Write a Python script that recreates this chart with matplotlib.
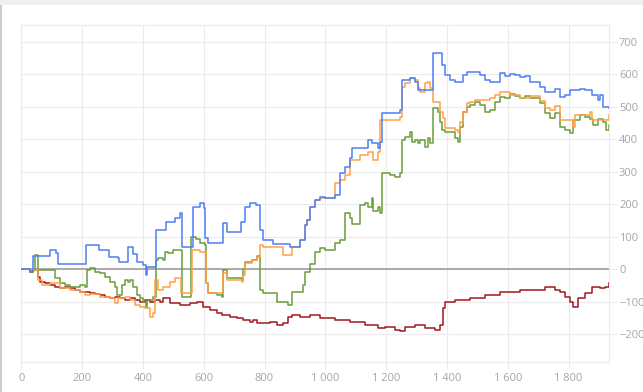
import numpy as np
import matplotlib
matplotlib.use("Agg")
from matplotlib import pyplot as plt
from matplotlib.patches import Rectangle

# (x = step index, y = value)
blue_x = [0, 29, 38, 88, 94, 114, 121, 209, 213, 252, 255, 285, 290, 318, 321, 351, 367, 380, 400, 410, 413,
          443, 476, 505, 522, 528, 561, 564, 588, 601, 604, 614, 660, 663, 676, 719, 722, 736, 752, 772, 785,
          795, 828, 884, 916, 933, 939, 949, 966, 982, 998, 1031, 1048, 1064, 1081, 1087, 1130, 1140, 1153,
          1173, 1180, 1186, 1239, 1245, 1252, 1278, 1294, 1304, 1344, 1354, 1377, 1383, 1393, 1410, 1426,
          1452, 1465, 1492, 1508, 1525, 1541, 1574, 1590, 1607, 1623, 1640, 1656, 1673, 1706, 1722, 1755,
          1771, 1788, 1804, 1837, 1853, 1876, 1896, 1903, 1912, 1932]
blue_y = [0, -6, 40, 40, 58, 49, 15, 15, 74, 74, 58, 58, 37, 34, 22, 68, 45, 22, 12, -18, 6,
          120, 145, 157, 172, 68, 68, 191, 203, 188, 95, 80, 80, 141, 114, 114, 145, 191, 203, 197, 120,
          89, 77, 68, 89, 135, 151, 191, 212, 221, 218, 228, 295, 314, 341, 372, 372, 397, 387,
          372, 391, 480, 480, 489, 581, 587, 575, 550, 550, 664, 664, 627, 597, 581, 575,
          597, 606, 606, 597, 581, 575, 603, 595, 600, 597, 590, 595, 575, 560, 545, 555,
          529, 535, 550, 555, 550, 535, 520, 535, 500, 495]

orange_x = [0, 38, 55, 68, 94, 127, 160, 193, 209, 226, 259, 292, 308, 318, 341, 357, 374, 390, 407, 423,
            433, 440, 449, 466, 489, 505, 525, 561, 588, 604, 607, 614, 660, 663, 676, 726, 729, 736, 759,
            775, 785, 795, 841, 860, 884, 890, 916, 933, 939, 949, 966, 982, 1031, 1048, 1064, 1081, 1114,
            1140, 1157, 1173, 1180, 1239, 1245, 1252, 1262, 1278, 1294, 1304, 1311, 1327, 1338, 1344, 1354,
            1377, 1386, 1393, 1426, 1436, 1442, 1452, 1465, 1475, 1492, 1541, 1558, 1574, 1607, 1640, 1673,
            1706, 1722, 1738, 1755, 1771, 1814, 1820, 1870, 1876, 1926, 1932]
orange_y = [0, -3, -34, -49, -43, -58, -65, -71, -80, -77, -86, -89, -105, -89, -86, -95, -111, -117, -120, -148,
            -135, -34, -65, -55, -40, -28, -74, 58, 52, 52, -43, -74, -74, -12, -34, -40, -18, 18, 28,
            37, 74, 68, 68, 43, 43, 68, 89, 135, 151, 191, 212, 218, 264, 274, 289, 335, 351,
            360, 335, 360, 458, 458, 467, 560, 572, 587, 581, 557, 544, 572, 575, 557, 514,
            483, 464, 434, 427, 421, 452, 483, 510, 514, 520, 526, 535, 544, 535, 526, 532,
            517, 495, 489, 501, 458, 437, 474, 483, 458, 458, 474]

green_x = [0, 29, 38, 45, 55, 94, 111, 127, 144, 160, 193, 209, 216, 226, 242, 259, 275, 292, 308, 315, 331,
           341, 351, 357, 367, 380, 390, 400, 410, 413, 433, 443, 449, 466, 472, 482, 499, 528, 558, 575,
           588, 604, 607, 614, 643, 660, 663, 676, 726, 729, 736, 759, 775, 785, 795, 841, 877, 890, 926,
           933, 949, 966, 982, 998, 1031, 1048, 1064, 1081, 1087, 1114, 1130, 1140, 1153, 1157, 1173, 1180,
           1186, 1212, 1229, 1245, 1252, 1262, 1278, 1285, 1294, 1304, 1311, 1327, 1338, 1344, 1354, 1370,
           1377, 1383, 1393, 1426, 1436, 1442, 1452, 1465, 1475, 1492, 1508, 1525, 1541, 1558, 1574, 1590,
           1607, 1623, 1640, 1656, 1673, 1706, 1722, 1738, 1755, 1771, 1788, 1804, 1814, 1837, 1853, 1870,
           1880, 1896, 1912, 1922, 1932]
green_y = [0, -9, -3, 43, -3, -3, -28, -43, -49, -55, -49, -55, -3, 3, -9, -12, -25, -40, -55, -80, -49,
           -34, -40, -34, -55, -80, -89, -101, -117, -95, -86, 28, 34, 28, 52, 49, 58, -86, 98, 92,
           80, 74, -43, -74, -80, -86, -3, -28, -34, 0, 22, 28, 40, -65, -74, -101, -111, -71, -49,
           -9, 15, 52, 65, 58, 80, 89, 172, 157, 138, 197, 203, 191, 218, 178, 191, 172,
           295, 289, 283, 295, 397, 406, 421, 391, 397, 387, 397, 375, 403, 387, 495, 483,
           452, 427, 421, 403, 391, 437, 483, 498, 504, 514, 504, 483, 489, 514, 529, 526,
           538, 532, 526, 532, 526, 510, 480, 464, 480, 437, 427, 418, 458, 474, 467, 461,
           443, 461, 452, 427, 443]

red_x = [0, 29, 38, 55, 61, 78, 94, 111, 127, 144, 160, 177, 193, 226, 242, 259, 275, 292, 308, 325, 341,
         357, 374, 390, 407, 423, 440, 456, 466, 489, 522, 555, 578, 597, 620, 643, 660, 686, 709, 729, 752,
         762, 775, 795, 818, 841, 860, 877, 890, 916, 949, 982, 1031, 1081, 1130, 1173, 1196, 1229, 1245,
         1262, 1294, 1327, 1360, 1377, 1386, 1393, 1426, 1475, 1525, 1574, 1640, 1706, 1722, 1755, 1771,
         1788, 1804, 1814, 1830, 1853, 1876, 1903, 1919, 1932]
red_y = [0, -9, -3, -25, -40, -43, -49, -55, -58, -55, -58, -65, -71, -74, -77, -80, -86, -89, -86, -89, -95,
         -89, -95, -101, -95, -101, -95, -101, -89, -105, -111, -105, -101, -117, -126, -135, -141, -148, -151, -157, -163,
         -157, -166, -166, -163, -172, -166, -148, -141, -148, -141, -151, -157, -163, -172, -181, -178, -188, -190,
         -178, -172, -181, -188, -172, -120, -101, -95, -89, -80, -71, -65, -65, -55, -65, -71,
         -86, -101, -117, -89, -74, -55, -58, -55, -43]

x_ticks = [0, 200, 400, 600, 800, 1000, 1200, 1400, 1600, 1800]
x_labels = ["0", "200", "400", "600", "800", "1 000", "1 200", "1 400", "1 600", "1 800"]
y_ticks = [-200, -100, 0, 100, 200, 300, 400, 500, 600, 700]

plt.rcParams["font.family"] = ["Open Sans", "DejaVu Sans"]

fig = plt.figure(figsize=(6.43, 3.92), dpi=100)
fig.patch.set_facecolor("white")
# grey strip on top and thin border on the left (page frame)
fig.add_artist(Rectangle((0, 1 - 5 / 392), 1, 5 / 392, transform=fig.transFigure, color="#f0f0f0", lw=0))
fig.add_artist(Rectangle((0, 0), 1.5 / 643, 1 - 5 / 392, transform=fig.transFigure, color="#cccccc", lw=0))

ax = fig.add_axes([21.3 / 643, 1 - 362.3 / 392, (609.3 - 21.3) / 643, (362.3 - 25.3) / 392])

grid_c = "#ebebeb"
lw = 1.1
ax.axhline(0, color="#aaaaaa", lw=1.4, zorder=2)
ax.plot(red_x, red_y, drawstyle="steps-post", color="#a0191c", lw=lw, zorder=3)
ax.plot(green_x, green_y, drawstyle="steps-post", color="#6b9c3a", lw=lw, zorder=4)
ax.plot(orange_x, orange_y, drawstyle="steps-post", color="#ffa046", lw=lw, zorder=5)
ax.plot(blue_x, blue_y, drawstyle="steps-post", color="#4e7ff5", lw=lw, zorder=6)

ax.set_xlim(0, 1934)
ax.set_ylim(-287, 750)
ax.set_xticks(x_ticks)
ax.set_xticklabels(x_labels)
ax.set_yticks(y_ticks)
ax.yaxis.tick_right()
ax.grid(True, color=grid_c, lw=0.8, zorder=0)
ax.set_axisbelow(True)
for s in ax.spines.values():
    s.set_color(grid_c)
    s.set_linewidth(0.8)
ax.tick_params(axis="both", colors=grid_c, labelcolor="#a6a6a6", labelsize=8, width=0.8)
ax.tick_params(axis="x", length=5, pad=3)
ax.tick_params(axis="y", length=6, pad=1)

fig.savefig("out.png", dpi=100)
